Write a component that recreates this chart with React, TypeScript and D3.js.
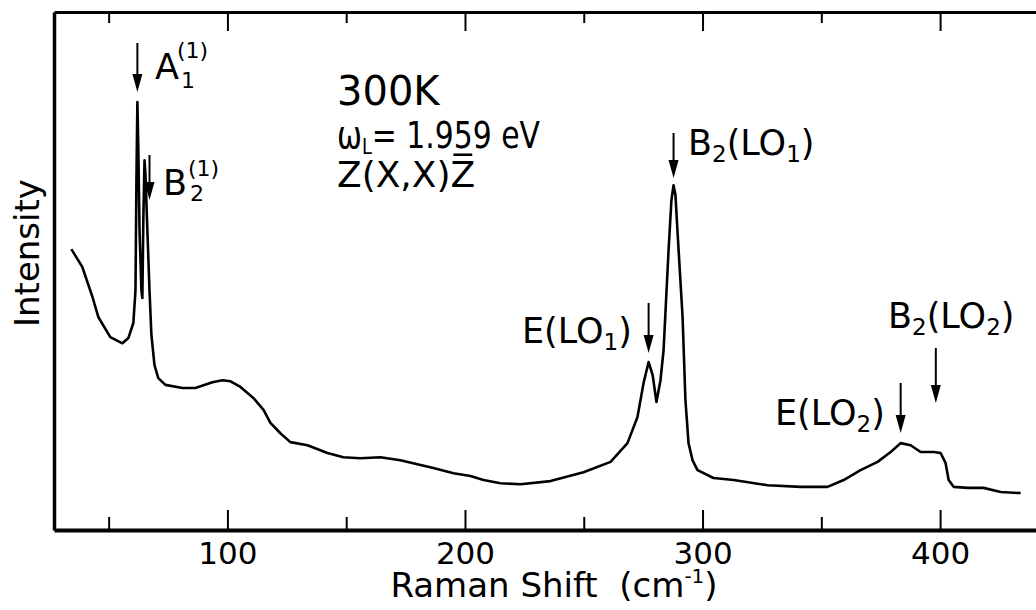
import React, { useEffect, useRef } from "react";
import * as d3 from "d3";

// Raman shift (cm-1) and intensity (arb. units)
const shift = [
  34.3, 38.9, 43.2, 45.7, 50.7, 55.8, 58.3, 60.4, 61.3, 61.7, 62.1, 62.5, 63.0, 63.8, 64.2,
  64.6, 65.1, 65.5, 66.3, 67.2, 68.0, 69.3, 70.9, 73.9, 81.1, 86.5, 93.7, 97.9, 101.3, 105.5,
  110.9, 115.2, 118.1, 122.3, 126.5, 133.7, 142.1, 148.8, 156.0, 164.4, 172.8, 181.3, 186.7,
  195.2, 202.3, 207.8, 214.9, 223.4, 236.0, 249.9, 261.3, 268.4, 272.6, 275.2, 277.3, 279.0,
  280.6, 282.3, 283.6, 285.7, 286.9, 287.8, 288.6, 289.5, 291.6, 292.8, 294.1, 295.8, 297.9,
  304.6, 313.1, 327.4, 341.3, 352.6, 359.4, 366.5, 373.7, 379.2, 383.4, 387.6, 391.8, 397.3,
  400.2, 402.3, 403.6, 405.7, 411.6, 418.3, 425.5, 433.9,
];
const intensity = [
  54.4, 51.0, 45.2, 41.3, 37.5, 36.3, 37.3, 40.2, 46.5, 67.7, 82.7, 73.5, 58.1, 46.5, 45.0,
  60.0, 71.5, 68.7, 58.1, 46.5, 37.9, 32.1, 29.6, 28.3, 27.7, 27.7, 28.8, 29.2, 29.0, 27.9,
  25.8, 23.5, 21.0, 19.0, 17.3, 16.7, 15.2, 14.4, 14.2, 14.4, 13.8, 12.9, 12.3,
  11.3, 10.8, 10.0, 9.4, 9.2, 9.8, 11.5, 13.5, 17.1, 22.1, 28.7, 32.7, 30.2,
  25.0, 29.2, 35.0, 54.2, 63.8, 66.7, 64.8, 57.5, 41.3, 25.4, 17.1, 13.8, 11.9,
  10.4, 10.0, 9.0, 8.7, 8.7, 10.0, 11.9, 13.5, 15.4, 17.1, 16.7, 15.4, 15.4,
  15.2, 13.3, 10.0, 8.7, 8.5, 8.5, 7.7, 7.5,
];

const xTicks = [50, 100, 150, 200, 250, 300, 350, 400];
// modes marked with arrows
const peakNames = ["A1", "B2_1", "E_LO1", "B2_LO1", "E_LO2", "B2_LO2"];
const peakShifts = [62.1, 67.2, 277.3, 287.8, 383.4, 398.2];

const FONT = "DejaVu Sans";
const W = 1036;
const H = 610;

export default function App() {
  const ref = useRef<SVGGElement>(null);

  useEffect(() => {
    const g = d3.select(ref.current);
    g.selectAll("*").remove();

    const left = 54, top = 12, bottom = 530;

    const x = d3.scaleLinear().domain([27, 445]).range([left, 1047]);
    const y = d3.scaleLinear().domain([0.4, 100]).range([bottom, top]);

    // bottom axis, ticks pointing inward
    const gb = g.append("g")
      .attr("transform", `translate(0,${bottom})`)
      .call(
        d3.axisBottom(x)
          .tickValues(xTicks)
          .tickSizeInner(-20)
          .tickSizeOuter(0)
          .tickPadding(12)
          .tickFormat((d) => String(d))
      );
    gb.select(".domain").attr("stroke-width", 4);
    gb.selectAll(".tick line")
      .attr("stroke-width", 2)
      .attr("y2", (d) => ((d as number) % 100 === 0 ? -20 : -13));
    gb.selectAll(".tick text")
      .filter((d) => (d as number) % 100 !== 0)
      .remove();
    gb.selectAll(".tick text")
      .attr("font-family", FONT)
      .attr("font-size", 31)
      .attr("fill", "#000");

    // top axis
    const gt = g.append("g")
      .attr("transform", `translate(0,${top})`)
      .call(d3.axisTop(x).tickValues(xTicks).tickSizeInner(-18).tickSizeOuter(0));
    gt.selectAll(".tick text").remove();
    gt.select(".domain").attr("stroke-width", 3);
    gt.selectAll(".tick line")
      .attr("stroke-width", 2)
      .attr("y2", (d) => ((d as number) % 100 === 0 ? 19 : 11));

    // left axis, no ticks
    const gl = g.append("g")
      .attr("transform", `translate(${left},0)`)
      .call(d3.axisLeft(y).tickValues([]).tickSizeOuter(0));
    gl.select(".domain").attr("stroke-width", 3.5);

    // spectrum
    const pts = shift.map((s, i) => [s, intensity[i]] as [number, number]);
    const line = d3.line<[number, number]>()
      .x((d) => x(d[0]))
      .y((d) => y(d[1]));
    g.append("path")
      .datum(pts)
      .attr("d", line)
      .attr("fill", "none")
      .attr("stroke", "#000")
      .attr("stroke-width", 2.6)
      .attr("stroke-linejoin", "round");

    // arrows: [y start, y tip] in px
    const arrowY: Record<string, [number, number]> = {
      A1: [43, 92],
      B2_1: [155, 200],
      E_LO1: [303, 353],
      B2_LO1: [133, 178],
      E_LO2: [383, 433],
      B2_LO2: [348, 403],
    };
    peakNames.forEach((n, i) => {
      const ax = x(peakShifts[i]);
      const [y0, y1] = arrowY[n];
      g.append("line")
        .attr("x1", ax).attr("x2", ax)
        .attr("y1", y0).attr("y2", y1 - 10)
        .attr("stroke", "#000").attr("stroke-width", 2);
      g.append("path")
        .attr("d", `M${ax - 5},${y1 - 18}L${ax + 5},${y1 - 18}L${ax},${y1}Z`)
        .attr("fill", "#000");
    });
  }, []);

  const t = { fontFamily: FONT, fill: "#000" } as const;

  return (
    <svg width={W} height={H} style={{ position: "absolute", left: 0, top: 0, background: "#fff" }}>
      <g ref={ref} />

      <text x={39} y={253} transform="rotate(-90 39 253)" textAnchor="middle" fontSize={34} {...t}>
        Intensity
      </text>
      <text x={554} y={597} textAnchor="middle" fontSize={34} {...t}>
        Raman Shift{"\u00a0\u00a0"}(cm<tspan fontSize={20} dy={-14}>-1</tspan>
        <tspan dy={14}>)</tspan>
      </text>

      <text x={155} y={79} fontSize={35} {...t}>A</text>
      <text x={177} y={58} fontSize={22} {...t}>(1)</text>
      <text x={181} y={88} fontSize={22} {...t}>1</text>

      <text x={163} y={195} fontSize={35} {...t}>B</text>
      <text x={188} y={176} fontSize={22} {...t}>(1)</text>
      <text x={190} y={201} fontSize={22} {...t}>2</text>

      <text x={337} y={105} fontSize={40} {...t}>300K</text>
      <text x={337} y={148} fontSize={37} textLength={203} lengthAdjust="spacingAndGlyphs" {...t}>
        ω<tspan fontSize={22} dy={6}>L</tspan>
        <tspan dy={-6}>= 1.959 eV</tspan>
      </text>
      <text x={337} y={187} fontSize={36} {...t}>Z(X,X)Z{"\u0305"}</text>

      <text x={688} y={155} fontSize={35} {...t}>
        B<tspan fontSize={23} dy={7}>2</tspan>
        <tspan dy={-7}>(LO</tspan>
        <tspan fontSize={23} dy={7}>1</tspan>
        <tspan dy={-7}>)</tspan>
      </text>
      <text x={522} y={343} fontSize={35} {...t}>
        E(LO<tspan fontSize={23} dy={7}>1</tspan>
        <tspan dy={-7}>)</tspan>
      </text>
      <text x={775} y={425} fontSize={35} {...t}>
        E(LO<tspan fontSize={23} dy={7}>2</tspan>
        <tspan dy={-7}>)</tspan>
      </text>
      <text x={888} y={328} fontSize={35} {...t}>
        B<tspan fontSize={23} dy={7}>2</tspan>
        <tspan dy={-7}>(LO</tspan>
        <tspan fontSize={23} dy={7}>2</tspan>
        <tspan dy={-7}>)</tspan>
      </text>
    </svg>
  );
}
